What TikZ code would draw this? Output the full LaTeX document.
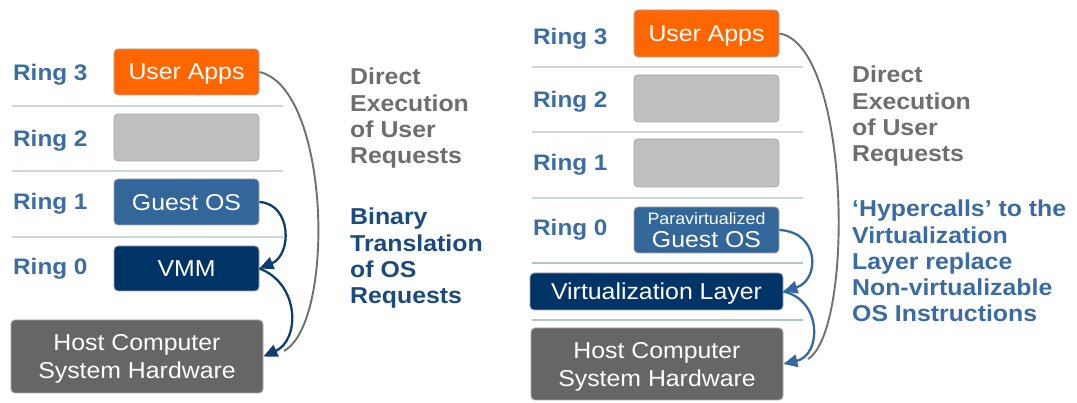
\documentclass[tikz,border=0pt]{standalone}
\usepackage{fontspec}
\setmainfont{Liberation Sans}[FakeStretch=1.08]
\usetikzlibrary{arrows.meta}
\definecolor{orangeapp}{HTML}{FF6600}
\definecolor{ringgray}{HTML}{BFBFBF}
\definecolor{guestblue}{HTML}{336699}
\definecolor{vmmnavy}{HTML}{003366}
\definecolor{hostgray}{HTML}{666666}
\definecolor{ringlabel}{HTML}{3B6DA3}
\definecolor{sepline}{HTML}{CCD9D4}
\definecolor{sepdark}{HTML}{B3C6BE}
\definecolor{notegray}{HTML}{6E6E6E}
\definecolor{notenavy}{HTML}{1B4A7E}
\definecolor{noteblue}{HTML}{3A6BA3}
\definecolor{arrownavy}{HTML}{0E3D70}
\definecolor{arrowblue}{HTML}{3468A2}
\definecolor{linegray}{HTML}{707070}
\definecolor{boxedge}{HTML}{A8A8A8}
\tikzset{
  layer/.style={draw=boxedge, line width=0.8pt, rounded corners=4pt, inner sep=0pt,
    text=white, text depth=0pt, font=\fontsize{23}{28}\selectfont, align=center},
  ringtxt/.style={anchor=base west, inner sep=0pt, text=ringlabel,
    font=\fontsize{22.5}{24}\selectfont\bfseries},
  note/.style={anchor=north west, inner sep=0pt, align=left,
    font=\fontsize{23}{26.2}\selectfont\bfseries},
  sep/.style={draw=sepline, line width=1.2pt},
  septhick/.style={draw=sepdark, line width=2.2pt},
  direct/.style={draw=linegray, line width=1.9pt},
  hop/.style={line width=2.3pt, -{Triangle[length=14pt,width=12.5pt]}},
}
\begin{document}
\begin{tikzpicture}[x=1pt, y=-1pt]
\useasboundingbox (0,0) rectangle (1077,403);

% ---------- left stack: binary translation ----------
\draw[sep] (12,106) -- (283,106);
\draw[sep] (12,171) -- (283,171);
\draw[sep] (12,237) -- (283,237);

\node[ringtxt] (l3) at (13,81) {Ring 3};
\node[ringtxt] (l2) at (13,147) {Ring 2};
\node[ringtxt] (l1) at (13,210) {Ring 1};
\node[ringtxt] (l0) at (13,275) {Ring 0};

\node[layer, fill=orangeapp, minimum width=145pt, minimum height=46pt] (uaL) at (186.5,72) {User Apps};
\node[layer, fill=ringgray, minimum width=145pt, minimum height=47pt] (r2L) at (186.5,137.5) {};
\node[layer, fill=guestblue, minimum width=145pt, minimum height=46pt] (gosL) at (186.5,202) {Guest OS};
\node[layer, fill=vmmnavy, minimum width=145pt, minimum height=45pt] (vmm) at (186.5,268.5) {VMM};
\node[layer, fill=hostgray, minimum width=252pt, minimum height=73pt] (hostL) at (137,356.5)
  {Host Computer\\System Hardware};

\coordinate (gL) at (284,351);
\draw[direct] (uaL.east) .. controls (330,88) and (336,322) .. (gL);
\draw[hop, draw=arrownavy] (gosL.east) .. controls (292,204) and (292,255) .. (vmm.east);
\draw[hop, draw=arrownavy] (vmm.east) .. controls (300,284) and (300,340) .. (hostL.east);

\node[note, text=notegray] (dxL) at (350,68) {Direct\\Execution\\of User\\Requests};
\node[note, text=notenavy] (btL) at (350,208) {Binary\\Translation\\of OS\\Requests};

% ---------- right stack: paravirtualization ----------
\draw[sep] (532,67) -- (803,67);
\draw[sep] (532,132) -- (803,132);
\draw[sep] (532,198) -- (803,198);
\draw[septhick] (532,263) -- (803,263);
\draw[septhick] (532,320) -- (803,320);

\node[ringtxt] (r3) at (533,45) {Ring 3};
\node[ringtxt] (r2) at (533,108) {Ring 2};
\node[ringtxt] (r1) at (533,171) {Ring 1};
\node[ringtxt] (r0) at (533,236) {Ring 0};

\node[layer, fill=orangeapp, minimum width=145pt, minimum height=47pt] (uaR) at (706.5,33.5) {User Apps};
\node[layer, fill=ringgray, minimum width=145pt, minimum height=47pt] (r2R) at (706.5,98.5) {};
\node[layer, fill=ringgray, minimum width=145pt, minimum height=48pt] (r1R) at (706.5,163) {};
\node[layer, fill=guestblue, minimum width=145pt, minimum height=46pt] (gosR) at (706.5,230)
  {{\fontsize{16.5}{17}\selectfont Paravirtualized}\\[-5pt]Guest OS};
\node[layer, fill=vmmnavy, minimum width=253pt, minimum height=37pt] (vl) at (656.5,291.5) {Virtualization Layer};
\node[layer, fill=hostgray, minimum width=252pt, minimum height=72pt] (hostR) at (657,364)
  {Host Computer\\System Hardware};

\coordinate (gR) at (808,359);
\draw[direct] (uaR.east) .. controls (850,45) and (855,330) .. (gR);
\draw[hop, draw=arrowblue] (gosR.east) .. controls (820,232) and (820,280) .. (vl.east);
\draw[hop, draw=arrowblue] (vl.east) .. controls (822,300) and (822,355) .. (hostR.east);

\node[note, text=notegray] (dxR) at (852,66) {Direct\\Execution\\of User\\Requests};
\node[note, text=noteblue] (hcR) at (852,200)
  {‘Hypercalls’ to the\\Virtualization\\Layer replace\\Non-virtualizable\\OS Instructions};
\end{tikzpicture}
\end{document}
